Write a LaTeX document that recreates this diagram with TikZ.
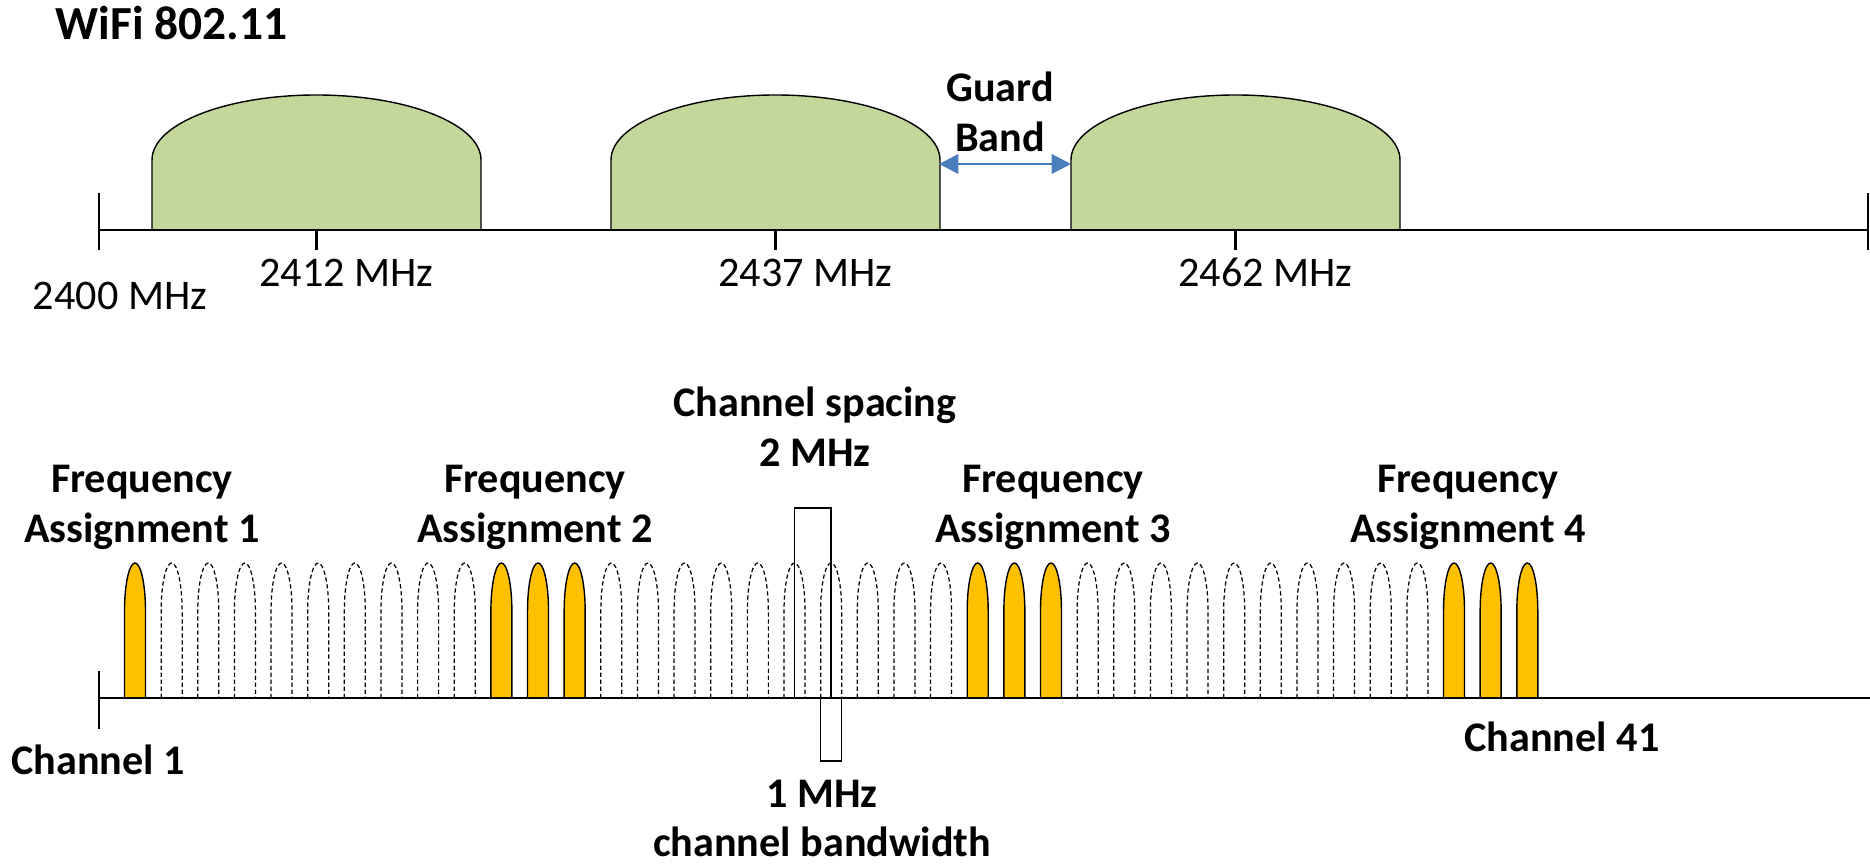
\documentclass[tikz,border=0pt]{standalone}
\usepackage{fontspec}
\setmainfont{Carlito}
\usetikzlibrary{arrows.meta,positioning}

\definecolor{bandgreen}{RGB}{196,215,155}
\definecolor{slotyellow}{RGB}{255,192,0}
\definecolor{guardblue}{RGB}{74,126,187}

\tikzset{
  band/.style={fill=bandgreen, draw=black, line width=0.4pt},
  slot/.style={fill=slotyellow, draw=black, line width=0.4pt},
  freeslot/.style={draw=black, line width=0.35pt, dash pattern=on 1.2pt off 0.8pt},
  axis/.style={line width=0.6pt},
  guard/.style={guardblue, line width=0.8pt, {Triangle[length=5.5pt,width=5.5pt]}-{Triangle[length=5.5pt,width=5.5pt]}},
  lbl/.style={font=\fontsize{12}{14.2}\selectfont\bfseries, align=center, inner sep=0pt},
  mhz/.style={font=\fontsize{12}{14}\selectfont, inner sep=0pt},
}

\begin{document}
\begin{tikzpicture}
\useasboundingbox (0,0) rectangle (18.7,-8.64);
\node[lbl, font=\fontsize{13.5}{16}\selectfont\bfseries, anchor=base west] (title) at (0.55,-0.40) {WiFi 802.11};

%% WiFi channels
\foreach \l/\f [count=\k] in {1.52/2412, 6.11/2437, 10.71/2462}{
  \draw[band] (\l,-2.30) -- (\l,-1.60) arc[start angle=180, end angle=0, x radius=1.645, y radius=0.65] -- ++(0,-0.70) -- cycle;
  \coordinate (t\k) at (\l+1.645,-2.30);
  \draw[axis] (t\k) -- ++(0,-0.20);
  \node[mhz, anchor=base] (f\k) at (\l+1.945,-2.87) {\f\ MHz};
}
\draw[axis] (0.99,-2.30) -- (18.68,-2.30);
\draw[axis] (0.99,-1.93) -- (0.99,-2.50); %%Left
\draw[axis] (18.68,-1.93) -- (18.68,-2.50); %%Right
\node[mhz, anchor=base] (f0) at (1.20,-3.10) {2400 MHz};

\coordinate (gL) at (9.39,-1.64);
\coordinate (gR) at (10.71,-1.64);
\draw[guard] (gL) -- (gR);
\node[lbl] (gb) at (10.00,-1.115) {Guard\\Band};

%% narrow channels
\foreach \i in {0,...,38}
  \coordinate (p\i) at (1.35+0.3664*\i,-6.98);
\foreach \a/\b in {1/9, 13/22, 26/35}
  \foreach \i in {\a,...,\b}
    \draw[freeslot] ([xshift=-0.105cm]p\i) -- ++(0,0.87) arc[start angle=180, end angle=0, x radius=0.105, y radius=0.48] -- ++(0,-0.87);
\foreach \i in {0,10,11,12,23,24,25,36,37,38}
  \draw[slot] ([xshift=-0.105cm]p\i) -- ++(0,0.87) arc[start angle=180, end angle=0, x radius=0.105, y radius=0.48] -- ++(0,-0.87) -- cycle;
\draw[axis] (0.99,-6.98) -- (18.70,-6.98);
\draw[axis] (0.99,-6.71) -- (0.99,-7.29); %%Left

\draw[line width=0.4pt] ([yshift=1.90cm]p18) rectangle (p19);
\draw[line width=0.4pt] ([xshift=-0.105cm]p19) rectangle ([xshift=0.105cm,yshift=-0.63cm]p19);

\node[lbl] (fa1) at (1.42,-5.07) {Frequency\\Assignment 1};
\node[lbl] (fa2) at (5.35,-5.07) {Frequency\\Assignment 2};
\node[lbl] (fa3) at (10.53,-5.07) {Frequency\\Assignment 3};
\node[lbl] (fa4) at (14.68,-5.07) {Frequency\\Assignment 4};
\node[lbl] (sp) at (8.15,-4.27) {Channel spacing\\2 MHz};
\node[lbl] (bw) at (8.22,-8.185) {1 MHz\\channel bandwidth};
\node[lbl, anchor=base] (ch1) at (0.98,-7.75) {Channel 1};
\node[lbl, anchor=base] (ch41) at (15.62,-7.52) {Channel 41};
\end{tikzpicture}
\end{document}
